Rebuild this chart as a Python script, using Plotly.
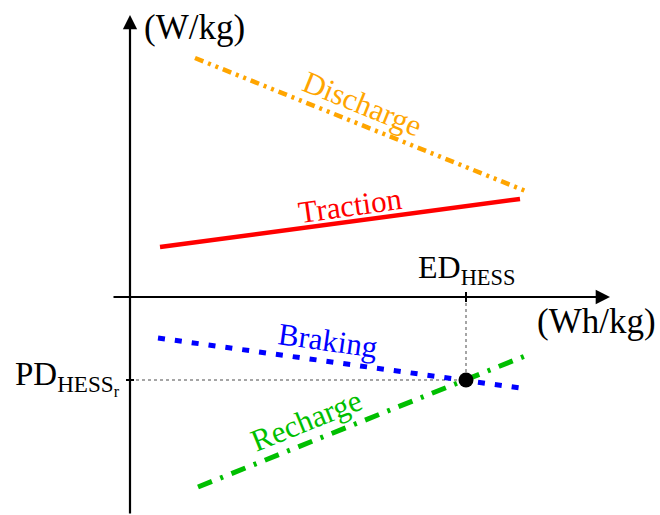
import plotly.graph_objects as go

# ---- data (schematic units) ----
series_names = ["Discharge", "Traction", "Braking", "Recharge"]
series_colors = ["#FFA500", "#FF0000", "#0000FF", "#00BF00"]
x_start = [6.5, 3.0, 2.8, 6.8]
x_end = [39.8, 39.0, 39.0, 40.0]
y_start = [23.9, 5.0, -4.1, -19.0]
y_end = [10.5, 9.8, -9.1, -5.7]
ed_hess = [33.6]
pd_hess_r = [-8.3]

FONT = "Liberation Serif"
dashes = ["9px,5px,3px,5px,3px,5px", "solid", "7px,10px", "15px,9px,3px,9px"]
widths = [4.5, 4.5, 5, 5]
label_pos = [(23.2, 19.4, 22), (22.0, 9.2, -8), (19.8, -4.3, 8), (17.6, -12.3, -22)]

fig = go.Figure()

# guide lines to the operating point
fig.add_trace(go.Scatter(x=[ed_hess[0], ed_hess[0]], y=[0, pd_hess_r[0]], mode="lines",
                         line=dict(color="#888888", width=1.5, dash="dot"), hoverinfo="skip"))
fig.add_trace(go.Scatter(x=[0, ed_hess[0]], y=[pd_hess_r[0], pd_hess_r[0]], mode="lines",
                         line=dict(color="#888888", width=1.5, dash="dot"), hoverinfo="skip"))

for i, name in enumerate(series_names):
    fig.add_trace(go.Scatter(x=[x_start[i], x_end[i]], y=[y_start[i], y_end[i]], mode="lines",
                             name=name, line=dict(color=series_colors[i], width=widths[i], dash=dashes[i])))
    lx, ly, ang = label_pos[i]
    fig.add_annotation(x=lx, y=ly, text=name, showarrow=False, textangle=ang,
                       font=dict(family=FONT, size=31, color=series_colors[i]))

fig.add_trace(go.Scatter(x=ed_hess, y=pd_hess_r, mode="markers",
                         marker=dict(color="black", size=15), hoverinfo="skip"))

# axes with arrows
fig.add_annotation(x=48, y=0, ax=-1.8, ay=0, xref="x", yref="y", axref="x", ayref="y",
                   showarrow=True, arrowhead=2, arrowsize=1.3, arrowwidth=2.2, arrowcolor="black", text="")
fig.add_annotation(x=0, y=28.2, ax=0, ay=-21.8, xref="x", yref="y", axref="x", ayref="y",
                   showarrow=True, arrowhead=2, arrowsize=1.3, arrowwidth=2.2, arrowcolor="black", text="")
# tick marks
fig.add_shape(type="line", x0=ed_hess[0], x1=ed_hess[0], y0=-0.5, y1=0.5, line=dict(color="black", width=2))
fig.add_shape(type="line", x0=-0.4, x1=0.4, y0=pd_hess_r[0], y1=pd_hess_r[0], line=dict(color="black", width=2))

fig.add_annotation(x=1.2, y=27.0, text="(W/kg)", showarrow=False, xanchor="left",
                   font=dict(family=FONT, size=35, color="black"))
fig.add_annotation(x=46.6, y=-2.4, text="(Wh/kg)", showarrow=False,
                   font=dict(family=FONT, size=35, color="black"))
fig.add_annotation(x=ed_hess[0], y=2.8, text="ED<sub>HESS</sub>", showarrow=False,
                   font=dict(family=FONT, size=32, color="black"))
fig.add_annotation(x=-0.8, y=pd_hess_r[0] + 0.2, text="PD<sub>HESS<sub>r</sub></sub>", showarrow=False,
                   xanchor="right", font=dict(family=FONT, size=33, color="black"))

fig.update_layout(width=660, height=515, margin=dict(l=0, r=0, t=0, b=0),
                  paper_bgcolor="white", plot_bgcolor="white", showlegend=False,
                  xaxis=dict(range=[-13, 53], visible=False, fixedrange=True),
                  yaxis=dict(range=[-21.8, 29.7], visible=False, fixedrange=True))

fig.write_html("out.html", config={"displayModeBar": False},
               post_script="document.body.style.margin='0px';")
